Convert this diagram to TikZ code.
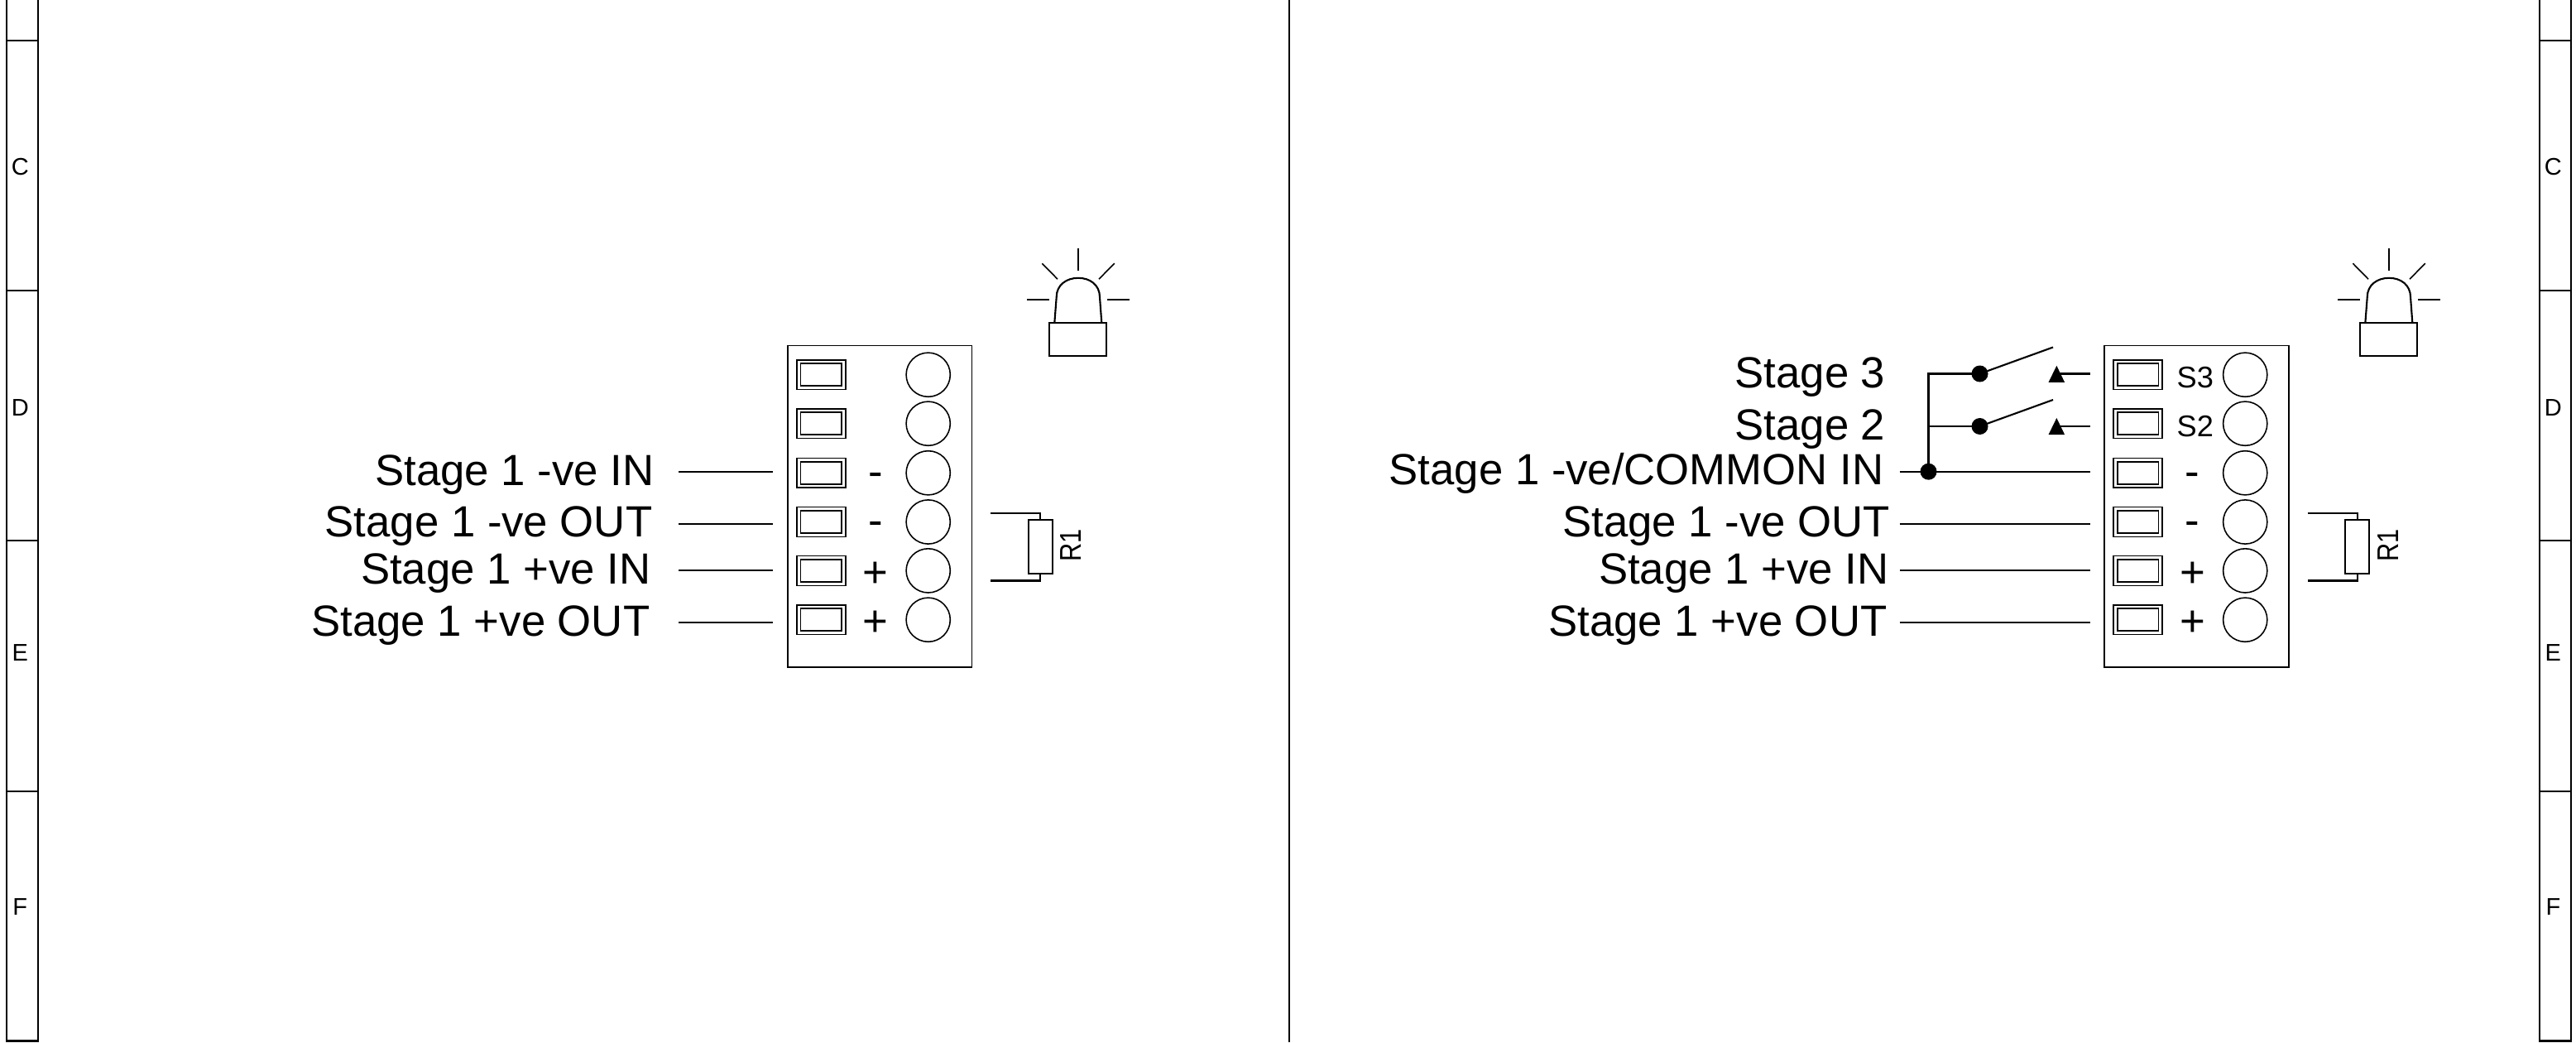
\documentclass[tikz,border=0pt]{standalone}
\usepackage{fontspec}
\setmainfont{Liberation Sans}
\usetikzlibrary{shapes.geometric}
\tikzset{
    wire/.style={line width=0.6pt},
    thinline/.style={line width=0.45pt},
    stagelab/.style={anchor=base east, inner sep=0pt, font=\fontsize{15}{18}\selectfont},
    signlab/.style={anchor=base, inner sep=0pt, font=\fontsize{15}{18}\selectfont},
    smalllab/.style={anchor=base, inner sep=0pt, font=\fontsize{10.3}{12}\selectfont},
    bandlab/.style={anchor=base, inner sep=0pt, font=\fontsize{8.25}{10}\selectfont},
    termout/.style={draw, thinline, inner sep=0pt, outer sep=0pt, minimum width=0.59cm, minimum height=0.358cm},
    termin/.style={draw, thinline, inner sep=0pt, outer sep=0pt, minimum width=0.494cm, minimum height=0.269cm},
    lug/.style={draw, circle, thinline, inner sep=0pt, outer sep=0pt, minimum size=0.532cm},
    resbox/.style={draw, wire, inner sep=0pt, outer sep=0pt, minimum width=0.29cm, minimum height=0.652cm},
    jointdot/.style={fill=black, circle, inner sep=0pt, outer sep=0pt, minimum size=0.2cm},
    contact/.style={fill=black, isosceles triangle, isosceles triangle stretches, shape border rotate=90, inner sep=0pt, outer sep=0pt, minimum width=0.195cm, minimum height=0.2cm, anchor=apex},
}

\begin{document}
\begin{tikzpicture}[x=1cm,y=-1cm]
    \useasboundingbox (0,0) rectangle (31.13,12.59);
    % side bands and middle line
    \foreach \xa/\xb/\xc in {0.08/0.457/0.243, 30.693/31.07/30.853}{
        \draw[wire] (\xa,0)--(\xa,12.59);
        \draw[wire] (\xb,0)--(\xb,12.59);
        \foreach \yy in {0.487,3.51,6.533,9.557,12.575}
            \draw[wire] (\xa,\yy)--(\xb,\yy);
        \node[bandlab] (bandC\xa) at (\xc,2.12){C};
        \node[bandlab] (bandD\xa) at (\xc,5.02){D};
        \node[bandlab] (bandE\xa) at (\xc,7.98){E};
        \node[bandlab] (bandF\xa) at (\xc,11.057){F};
    }
    \draw[wire] (15.577,0)--(15.577,12.59);

    % the two terminal blocks
    \foreach \side/\dx in {A/0, B/15.915}{
        \begin{scope}[xshift=\dx cm]
            \node[draw, thinline, inner sep=0pt, outer sep=0pt, minimum width=2.226cm, minimum height=3.881cm] (\side box) at (10.63,6.117){};
            \foreach \n/\yy in {1/4.527,2/5.117,3/5.713,4/6.305,5/6.894,6/7.487}{
                \node[termout] (\side term\n) at (9.922,\yy){};
                \node[termin] (\side in\n) at (9.922,\yy){};
                \node[lug] (\side lug\n) at (11.217,\yy){};
            }
            \node[signlab] (\side minusa) at (10.58,5.87){-};
            \node[signlab] (\side minusb) at (10.58,6.46){-};
            \node[signlab] (\side plusa) at (10.58,7.09){+};
            \node[signlab] (\side plusb) at (10.58,7.68){+};
            % end of line resistor
            \node[resbox] (\side res) at (12.572,6.606){};
            \coordinate (\side resa) at (11.973,6.199);
            \coordinate (\side resb) at (11.973,7.015);
            \draw[wire] (\side resa) -| (\side res.north);
            \draw[wire] (\side res.south) |- (\side resb);
            \node[smalllab, rotate=90, xscale=0.85] (\side reslab) at (13.067,6.59){R1};
        \end{scope}
    }

    % beacons
    \foreach \side/\dx in {A/0, B/15.84}{
        \begin{scope}[xshift=\dx cm]
            \node[draw, wire, inner sep=0pt, outer sep=0pt, minimum width=0.69cm, minimum height=0.396cm] (\side lamp) at (13.028,4.1){};
            \draw[wire] (12.743,3.902)--(12.767,3.59) .. controls (12.767,3.44) and (12.89,3.358) .. (13.03,3.358)
                .. controls (13.17,3.358) and (13.29,3.44) .. (13.29,3.59)--(13.313,3.902);
            \draw[thinline] (13.03,3.0)--(13.03,3.272);
            \draw[thinline] (12.593,3.182)--(12.78,3.372);
            \draw[thinline] (13.467,3.182)--(13.28,3.372);
            \draw[thinline] (12.41,3.62)--(12.68,3.62);
            \draw[thinline] (13.38,3.62)--(13.647,3.62);
        \end{scope}
    }

    % left labels and wires
    \node[stagelab] (Alab3) at (7.91,5.86){Stage 1 -ve IN};
    \node[stagelab] (Alab4) at (7.89,6.48){Stage 1 -ve OUT};
    \node[stagelab] (Alab5) at (7.87,7.05){Stage 1 +ve IN};
    \node[stagelab] (Alab6) at (7.86,7.68){Stage 1 +ve OUT};
    \foreach \n/\yy in {3/5.697,4/6.327,5/6.893,6/7.523}{
        \coordinate (Awa\n) at (8.2,\yy);
        \coordinate (Awb\n) at (9.343,\yy);
        \draw[wire] (Awa\n)--(Awb\n);
    }

    % right labels and wires
    \node[stagelab] (Blab1) at (22.79,4.68){Stage 3};
    \node[stagelab] (Blab2) at (22.79,5.317){Stage 2};
    \node[stagelab] (Blab3) at (22.77,5.853){Stage 1 -ve/COMMON IN};
    \node[stagelab] (Blab4) at (22.847,6.48){Stage 1 -ve OUT};
    \node[stagelab] (Blab5) at (22.83,7.05){Stage 1 +ve IN};
    \node[stagelab] (Blab6) at (22.81,7.68){Stage 1 +ve OUT};
    \foreach \n/\yy in {3/5.697,4/6.327,5/6.893,6/7.523}{
        \coordinate (Bwa\n) at (22.955,\yy);
        \coordinate (Bwb\n) at (25.26,\yy);
        \draw[wire] (Bwa\n)--(Bwb\n);
    }

    % switches
    \node[jointdot] (joint) at (23.305,5.697){};
    \foreach \n/\yy/\ya/\yb in {1/4.515/4.195/4.418, 2/5.15/4.83/5.05}{
        \node[jointdot] (sw\n) at (23.925,\yy){};
        \coordinate (arm\n) at (24.81,\ya);
        \node[contact] (cont\n) at (24.853,\yb){};
        \coordinate (Bwb\n) at (25.26,\yy);
        \draw[wire] (joint) |- (sw\n);
        \draw[wire] (sw\n)--(arm\n);
        \draw[wire] (Bwb\n)--(Bwb\n -| cont\n.apex);
    }
    \node[smalllab] (S3lab) at (26.527,4.684){S3};
    \node[smalllab] (S2lab) at (26.527,5.272){S2};
\end{tikzpicture}
\end{document}
